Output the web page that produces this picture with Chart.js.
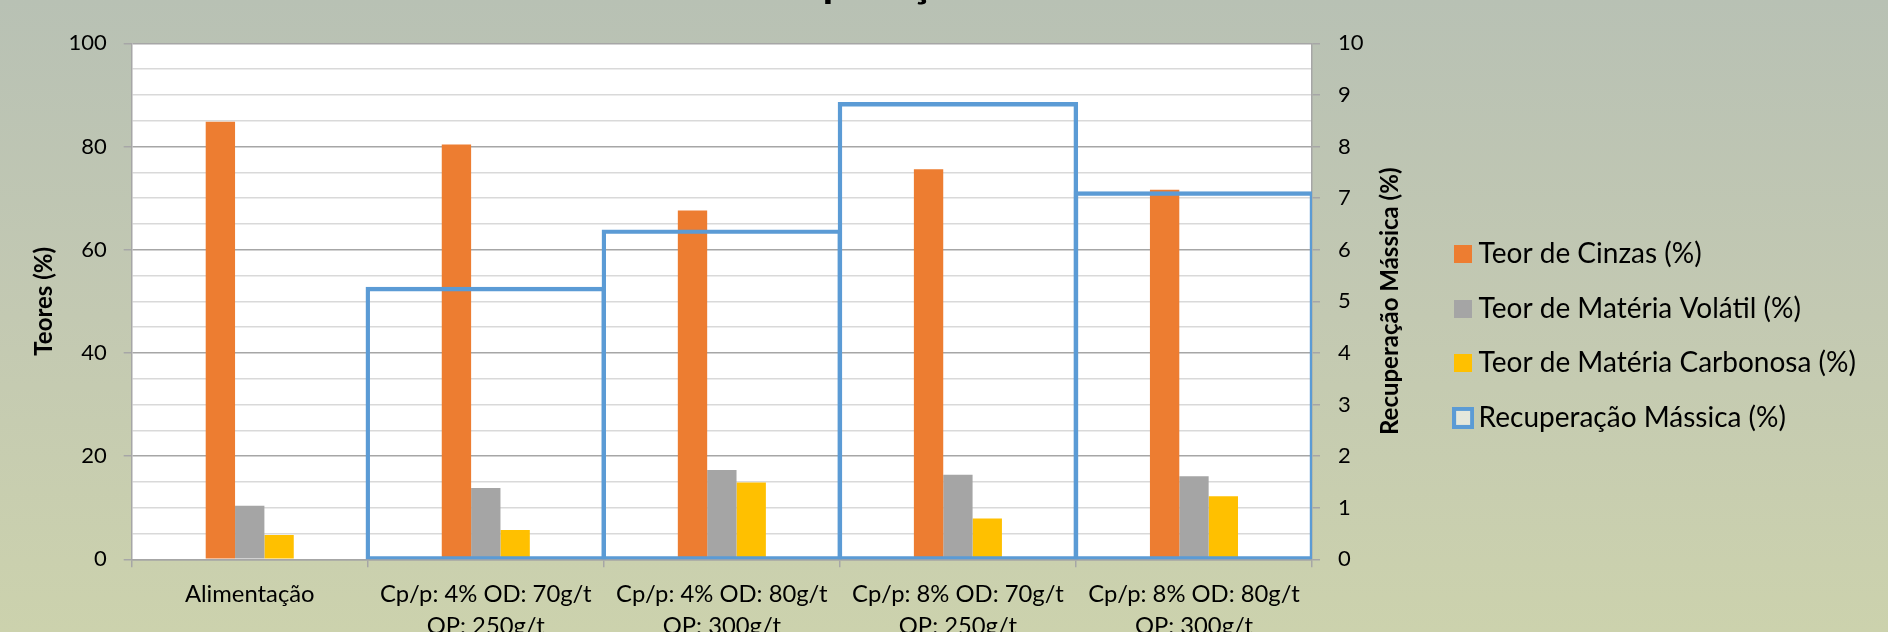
<!DOCTYPE html>
<html lang="pt">
<head>
<meta charset="utf-8">
<title>Teores e Recuperação Mássica</title>
<script src="https://cdn.jsdelivr.net/npm/chart.js@4/dist/chart.umd.min.js"></script>
<style>
  html, body { margin: 0; padding: 0; width: 1888px; height: 632px; overflow: hidden; }
  body { position: relative; background: linear-gradient(to bottom, #B8C1B4 0%, #C3C9B2 50%, #CCD2AD 100%); }
  #quadro { position: absolute; left: 0; top: -48px; width: 1888px; height: 768px; }
</style>
</head>
<body>
<div id="quadro"><canvas id="grafico" width="1888" height="768"></canvas></div>
<script>
// Ensaios de flotação: alimentação e quatro condições (Cp/p, óleo diesel, óleo de pinho)
const categorias = [
  'Alimentação',
  ['Cp/p: 4% OD: 70g/t', 'OP: 250g/t'],
  ['Cp/p: 4% OD: 80g/t', 'OP: 300g/t'],
  ['Cp/p: 8% OD: 70g/t', 'OP: 250g/t'],
  ['Cp/p: 8% OD: 80g/t', 'OP: 300g/t']
];
const teorCinzas = [84.8, 80.4, 67.6, 75.6, 71.6];
const teorVolatil = [10.4, 13.8, 17.3, 16.4, 16.1];
const teorCarbonosa = [4.7, 5.7, 14.9, 7.9, 12.2];
const recuperacaoMassica = [null, 5.24, 6.35, 8.82, 7.09];

const nomesSeries = [
  'Teor de Cinzas (%)',
  'Teor de Matéria Volátil (%)',
  'Teor de Matéria Carbonosa (%)',
  'Recuperação Mássica (%)'
];
const tituloGrafico = 'Recuperação Mássica';
const tituloEsquerdo = 'Teores (%)';
const tituloDireito = 'Recuperação Mássica (%)';

const FONTE = 'Lato, "Open Sans", sans-serif';
const COR_LARANJA = '#ED7D31';
const COR_CINZA = '#A5A5A5';
const COR_AMARELO = '#FFC000';
const COR_AZUL = '#5B9BD5';
const COR_EIXO = '#A6A6A6';
const COR_GRADE = '#D9D9D9';

// marcadores da legenda
function marcadorCheio(cor) {
  const c = document.createElement('canvas');
  c.width = 18; c.height = 18;
  const g = c.getContext('2d');
  g.fillStyle = cor;
  g.fillRect(0, 0, 18, 18);
  return c;
}
function marcadorVazado(cor) {
  const c = document.createElement('canvas');
  c.width = 22; c.height = 22;
  const g = c.getContext('2d');
  g.fillStyle = 'rgba(255,255,255,0.55)';
  g.fillRect(2, 2, 18, 18);
  g.strokeStyle = cor;
  g.lineWidth = 4;
  g.strokeRect(2, 2, 18, 18);
  return c;
}
const marcadores = [
  marcadorCheio(COR_LARANJA),
  marcadorCheio(COR_CINZA),
  marcadorCheio(COR_AMARELO),
  marcadorVazado(COR_AZUL)
];

// fundo branco da área de plotagem
const fundoArea = {
  id: 'fundoArea',
  beforeDraw(chart) {
    const { ctx, chartArea: a } = chart;
    ctx.save();
    ctx.fillStyle = '#FFFFFF';
    ctx.fillRect(a.left, a.top, a.right - a.left, a.bottom - a.top);
    ctx.restore();
  }
};

// título do eixo secundário, lido de baixo para cima
const tituloEixoDireito = {
  id: 'tituloEixoDireito',
  afterDraw(chart) {
    const s = chart.scales.y2;
    const { ctx, chartArea: a } = chart;
    ctx.save();
    ctx.translate(s.left + 78, (a.top + a.bottom) / 2);
    ctx.rotate(-Math.PI / 2);
    ctx.font = 'bold 24px ' + FONTE;
    ctx.fillStyle = '#000';
    ctx.textAlign = 'center';
    ctx.textBaseline = 'middle';
    ctx.fillText(tituloDireito, 0, 0);
    ctx.restore();
  }
};

const barrasTeor = { categoryPercentage: 0.373, barPercentage: 1, borderWidth: 0, order: 1 };

new Chart(document.getElementById('grafico'), {
  type: 'bar',
  data: {
    labels: categorias,
    datasets: [
      Object.assign({ label: nomesSeries[0], data: teorCinzas, backgroundColor: COR_LARANJA, yAxisID: 'y' }, barrasTeor),
      Object.assign({ label: nomesSeries[1], data: teorVolatil, backgroundColor: COR_CINZA, yAxisID: 'y' }, barrasTeor),
      Object.assign({ label: nomesSeries[2], data: teorCarbonosa, backgroundColor: COR_AMARELO, yAxisID: 'y' }, barrasTeor),
      {
        label: nomesSeries[3],
        data: recuperacaoMassica,
        yAxisID: 'y2',
        grouped: false,
        categoryPercentage: 1,
        barPercentage: 1,
        backgroundColor: 'rgba(0,0,0,0)',
        borderColor: COR_AZUL,
        borderWidth: 0.01,
        borderSkipped: false,
        inflateAmount: 2.2,
        order: 0
      }
    ]
  },
  options: {
    responsive: false,
    animation: false,
    devicePixelRatio: 1,
    events: [],
    layout: { padding: { left: 14, right: 30, top: 0, bottom: 0 } },
    font: { family: FONTE },
    plugins: {
      tooltip: { enabled: false },
      title: {
        display: true,
        text: tituloGrafico,
        color: '#000',
        font: { family: FONTE, size: 44, weight: 'bold', lineHeight: 1.2 },
        padding: { top: 4, bottom: 34.5 }
      },
      legend: {
        position: 'right',
        maxWidth: 423,
        labels: {
          usePointStyle: true,
          pointStyleWidth: 3,
          padding: 26.6,
          color: '#000',
          font: { family: FONTE, size: 28 },
          generateLabels: (chart) => chart.data.datasets.map((ds, i) => ({
            text: ds.label,
            pointStyle: marcadores[i],
            fillStyle: 'rgba(0,0,0,0)',
            strokeStyle: 'rgba(0,0,0,0)',
            lineWidth: 0,
            hidden: false,
            datasetIndex: i,
            fontColor: '#000'
          }))
        }
      }
    },
    scales: {
      x: {
        grid: { display: true, drawOnChartArea: false, drawTicks: true, tickLength: 8, color: COR_EIXO, lineWidth: 1.5 },
        border: { display: true, color: COR_EIXO, width: 1.5 },
        ticks: {
          color: '#000',
          font: { family: FONTE, size: 23.8, lineHeight: 1.357 },
          padding: 11,
          autoSkip: false,
          maxRotation: 0,
          minRotation: 0
        },
        afterFit: (s) => { s.height = 160.7; }
      },
      y: {
        position: 'left',
        min: 0,
        max: 100,
        ticks: {
          stepSize: 5,
          autoSkip: false,
          color: '#000',
          font: { family: FONTE, size: 22 },
          padding: 17,
          callback: (v) => (v % 20 === 0 ? v : '')
        },
        grid: {
          color: (c) => (c.tick && c.tick.value % 20 === 0 ? COR_EIXO : COR_GRADE),
          tickColor: (c) => (c.tick && c.tick.value % 20 === 0 ? COR_EIXO : 'rgba(0,0,0,0)'),
          tickLength: 8,
          lineWidth: 1.5
        },
        border: { display: true, color: COR_EIXO, width: 1.5 },
        title: {
          display: true,
          text: tituloEsquerdo,
          color: '#000',
          font: { family: FONTE, size: 24, weight: 'bold', lineHeight: 1.2 },
          padding: { top: 15.6, bottom: 0 }
        },
        afterFit: (s) => { s.width = 117.7; }
      },
      y2: {
        position: 'right',
        min: 0,
        max: 10,
        ticks: {
          stepSize: 1,
          color: '#000',
          font: { family: FONTE, size: 22 },
          padding: 18
        },
        grid: { drawOnChartArea: false, tickLength: 8, color: COR_EIXO, lineWidth: 1.5 },
        border: { display: true, color: COR_EIXO, width: 1.5 },
        afterFit: (s) => { s.width = 123; }
      }
    }
  },
  plugins: [fundoArea, tituloEixoDireito]
});
</script>
</body>
</html>
